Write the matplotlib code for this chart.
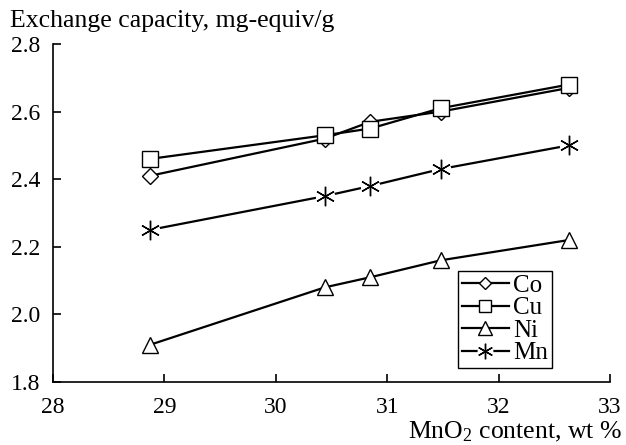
import matplotlib
matplotlib.use("Agg")
import matplotlib.pyplot as plt

plt.rcParams['font.family'] = ['Liberation Serif', 'DejaVu Serif']
plt.rcParams['mathtext.fontset'] = 'custom'
plt.rcParams['mathtext.rm'] = 'Liberation Serif'
plt.rcParams['mathtext.it'] = 'Liberation Serif:italic'

x = [28.87, 30.44, 30.85, 31.48, 32.63]
co = [2.41, 2.52, 2.57, 2.60, 2.67]
cu = [2.46, 2.53, 2.55, 2.61, 2.68]
ni = [1.91, 2.08, 2.11, 2.16, 2.22]
mn = [2.25, 2.35, 2.38, 2.43, 2.50]
xticks = [28, 29, 30, 31, 32, 33]
yticks = [1.8, 2.0, 2.2, 2.4, 2.6, 2.8]

fig = plt.figure(figsize=(6.26, 4.45), dpi=100)
L, R, B, T = 53 / 626, 610 / 626, 1 - 382 / 445, 1 - 44 / 445
ax = fig.add_axes([L, B, R - L, T - B])

lw = 1.6
common = dict(color='black', lw=lw, markerfacecolor='white', markeredgecolor='black', markeredgewidth=1.0)
l_co, = ax.plot(x, co, marker='D', markersize=8, **common, zorder=3)
l_cu, = ax.plot(x, cu, marker='s', markersize=11, **common, zorder=4)
l_ni, = ax.plot(x, ni, marker='^', markersize=12, **common, zorder=3)
l_mn_line, = ax.plot(x, mn, color='black', lw=lw, marker='o', markersize=13,
                     markerfacecolor='white', markeredgecolor='white', zorder=3)
l_mn_mark, = ax.plot(x, mn, ls='none', marker=(6, 2, 0), markersize=14,
                     markeredgecolor='black', markeredgewidth=1.0, zorder=4)

ax.set_xlim(28, 33)
ax.set_ylim(1.8, 2.8)
ax.set_xticks(xticks)
ax.set_yticks(yticks)
ax.set_xticklabels([str(t) for t in xticks])
ax.set_yticklabels([f"{t:.1f}" for t in yticks])
for s in ['top', 'right']:
    ax.spines[s].set_visible(False)
for s in ['left', 'bottom']:
    ax.spines[s].set_linewidth(1.2)
ax.tick_params(direction='in', length=6, width=1.2, labelsize=17)
ax.tick_params(axis='y', pad=9)
ax.tick_params(axis='x', pad=10.5)

fig.text(10 / 626, 1 - 27 / 445, "Exchange capacity, mg-equiv/g", fontsize=18.5,
         ha='left', va='baseline')
fig.text(622 / 626, 1 - 438 / 445, "MnO$_2$ content, wt %", fontsize=18.5,
         ha='right', va='baseline')

leg = ax.legend([l_co, l_cu, l_ni, (l_mn_line, l_mn_mark)], ['Co', 'Cu', 'Ni', 'Mn'],
                loc='lower left', bbox_to_anchor=(0.727, 0.041), fontsize=18,
                frameon=True, fancybox=False, edgecolor='black', framealpha=1,
                handlelength=1.9, handletextpad=0.15, borderpad=0.15,
                labelspacing=0.0, borderaxespad=0, markerscale=0.8)
leg.get_frame().set_linewidth(1.0)

fig.savefig("out.png", dpi=100)
